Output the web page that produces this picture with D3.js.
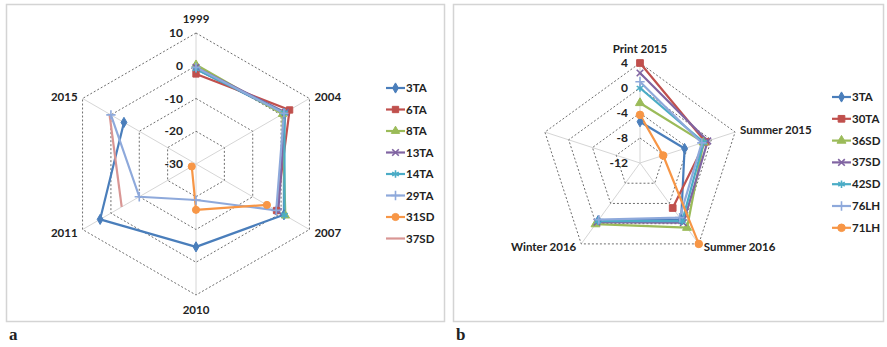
<!DOCTYPE html>
<html>
<head>
<meta charset="utf-8">
<script src="https://cdn.jsdelivr.net/npm/d3@7"></script>
<style>
  html, body { margin: 0; padding: 0; background: #fff; }
  svg { display: block; font-family: Lato, "Open Sans", sans-serif; }
</style>
</head>
<body>
<svg id="chart" width="887" height="347"></svg>
<script>
// ---- Panel a: yearly series ----
const axesA = ["1999", "2004", "2007", "2010", "2011", "2015"];
const ticksA = [-30, -20, -10, 0, 10];
const seriesA = ["3TA", "6TA", "8TA", "13TA", "14TA", "29TA", "31SD", "37SD"];
const a_3TA  = [-1.0, 1.0, 1.0, -4.7, 3.8, -4.6];
const a_6TA  = [-2.5, 3.0, -1.6, null, null, null];
const a_8TA  = [0.3, 0.5, 1.5, null, null, null];
const a_13TA = [-0.5, 1.5, -1.0, null, null, null];
const a_14TA = [-1.0, 1.2, 1.2, null, null, null];
const a_29TA = [-0.5, 1.0, -1.7, -19.0, -10.0, 0.0];
const a_31SD = [null, null, -5.0, -16.0, -28.5, null];
const a_37SD = [null, null, null, null, -3.8, 0.5];

// ---- Panel b: seasonal series (fifth spoke has no category) ----
const axesB = ["Print 2015", "Summer 2015", "Summer 2016", "Winter 2016", ""];
const ticksB = [-12, -8, -4, 0, 4];
const seriesB = ["3TA", "30TA", "36SD", "37SD", "42SD", "76LH", "71LH"];
const b_3TA  = [-5.4, -4.5, -0.8, -0.6, null];
const b_30TA = [4.0, -1.0, -3.1, null, null];
const b_36SD = [-2.4, -1.3, 0.8, 0.1, null];
const b_37SD = [2.4, -0.6, -0.2, -0.3, null];
const b_42SD = [0.0, -1.3, -0.5, -0.5, null];
const b_76LH = [1.0, -1.6, -1.2, -0.8, null];
const b_71LH = [-4.3, -8.1, 4.0, null, null];

const C = {
  blue: "#4A7EBB", red: "#C0504D", green: "#9BBB59", purple: "#8064A2",
  cyan: "#4BACC6", light: "#8EA9DB", orange: "#F79646", pink: "#D99694"
};
const symX = d3.symbolTimes || d3.symbolCross;
const symStar = d3.symbolAsterisk || d3.symbolCross;
const symPlus = d3.symbolPlus || d3.symbolCross;

const styleA = [
  { color: C.blue, sym: d3.symbolDiamond, size: 30 },
  { color: C.red, sym: d3.symbolSquare, size: 40 },
  { color: C.green, sym: d3.symbolTriangle, size: 30 },
  { color: C.purple, sym: symX, size: 30, stroke: true },
  { color: C.cyan, sym: symStar, size: 40, stroke: true },
  { color: C.light, sym: symPlus, size: 30, stroke: true },
  { color: C.orange, sym: d3.symbolCircle, size: 40 },
  { color: C.pink, sym: null }
];
const styleB = [
  { color: C.blue, sym: d3.symbolDiamond, size: 30 },
  { color: C.red, sym: d3.symbolSquare, size: 45 },
  { color: C.green, sym: d3.symbolTriangle, size: 35 },
  { color: C.purple, sym: symX, size: 30, stroke: true },
  { color: C.cyan, sym: symStar, size: 40, stroke: true },
  { color: C.light, sym: symPlus, size: 30, stroke: true },
  { color: C.orange, sym: d3.symbolCircle, size: 45 }
];

const svg = d3.select("#chart");

// panel frames
svg.append("rect").attr("x", 6.5).attr("y", 4.5).attr("width", 438).attr("height", 317)
  .attr("fill", "#fff").attr("stroke", "#d4d4d4").attr("stroke-width", 1.5);
svg.append("rect").attr("x", 453.5).attr("y", 4.5).attr("width", 430).attr("height", 317)
  .attr("fill", "#fff").attr("stroke", "#d4d4d4").attr("stroke-width", 1.5);

// panel letters
svg.append("text").attr("x", 9).attr("y", 340).text("a")
  .attr("font-family", "'Liberation Serif', 'DejaVu Serif', serif").attr("font-weight", "bold")
  .attr("font-size", 17).attr("fill", "#222");
svg.append("text").attr("x", 456).attr("y", 340).text("b")
  .attr("font-family", "'Liberation Serif', 'DejaVu Serif', serif").attr("font-weight", "bold")
  .attr("font-size", 17).attr("fill", "#222");

function drawMarker(g, st, x, y) {
  if (!st.sym) return;
  const p = d3.symbol().type(st.sym).size(st.size)();
  g.append("path").attr("d", p).attr("transform", `translate(${x},${y})`)
    .attr("fill", st.stroke ? "none" : st.color)
    .attr("stroke", st.color).attr("stroke-width", st.stroke ? 1.6 : 1);
}

function radar(opt) {
  const { cx, cy, R, axes, ticks, names, data, styles, tickOffset, legend } = opt;
  const n = axes.length;
  const top = ticks[ticks.length - 1];
  const g = svg.append("g").attr("transform", `translate(${cx},${cy})`);
  const r = d3.scaleLinear().domain([ticks[0], top]).range([0, R]);
  const ang = d3.scaleLinear().domain([0, n]).range([0, 2 * Math.PI]);
  const px = (i, v) => r(v) * Math.sin(ang(i));
  const py = (i, v) => -r(v) * Math.cos(ang(i));

  // spokes
  axes.forEach((a, i) => {
    g.append("line").attr("x1", 0).attr("y1", 0)
      .attr("x2", px(i, top)).attr("y2", py(i, top))
      .attr("stroke", "#d6d6d6").attr("stroke-width", 1);
  });
  // dashed rings
  const ring = d3.lineRadial().angle((d, i) => ang(i)).radius(d => r(d)).curve(d3.curveLinearClosed);
  ticks.slice(1).forEach(t => {
    g.append("path").attr("d", ring(axes.map(() => t)))
      .attr("fill", "none").attr("stroke", "#6e6e6e").attr("stroke-width", 1)
      .attr("stroke-dasharray", "2,2");
  });
  // tick labels
  ticks.forEach(t => {
    g.append("text").attr("x", tickOffset).attr("y", -r(t)).attr("dy", "0.35em")
      .attr("text-anchor", "end").attr("font-size", 12).attr("font-weight", "bold")
      .attr("fill", "#222").text(t);
  });
  // category labels
  axes.forEach((a, i) => {
    if (!a) return;
    const s = Math.sin(ang(i)), c = Math.cos(ang(i));
    const vx = px(i, top), vy = py(i, top);
    let x = vx, y = vy, anchor = "middle";
    if (Math.abs(s) < 0.01) { y = c > 0 ? vy - 14 : vy + 15; }
    else { anchor = s > 0 ? "start" : "end"; x = vx + (s > 0 ? 5 : -5); y = vy + (c > 0 ? -2 : 3); }
    g.append("text").attr("x", x).attr("y", y).attr("dy", "0.35em")
      .attr("text-anchor", anchor).attr("font-size", 11.5).attr("font-weight", "bold")
      .attr("fill", "#222").text(a);
  });
  // series lines (open, broken at missing values)
  const line = d3.lineRadial().defined(d => d != null)
    .angle((d, i) => ang(i)).radius(d => r(d));
  data.forEach((vals, k) => {
    const st = styles[k];
    g.append("path").attr("d", line(vals)).attr("fill", "none")
      .attr("stroke", st.color).attr("stroke-width", 2.2).attr("stroke-linejoin", "round");
  });
  data.forEach((vals, k) => {
    const st = styles[k];
    vals.forEach((v, i) => { if (v != null) drawMarker(g, st, px(i, v), py(i, v)); });
  });
  // legend
  const lg = svg.append("g");
  names.forEach((nm, k) => {
    const st = styles[k];
    const y = legend.y + k * legend.dy;
    lg.append("line").attr("x1", legend.x).attr("x2", legend.x + 19).attr("y1", y).attr("y2", y)
      .attr("stroke", st.color).attr("stroke-width", 2.2);
    drawMarker(lg, st, legend.x + 9.5, y);
    lg.append("text").attr("x", legend.x + 20).attr("y", y).attr("dy", "0.35em")
      .attr("font-size", 11.5).attr("font-weight", "bold").attr("fill", "#222").text(nm);
  });
}

radar({
  cx: 196, cy: 164, R: 131, axes: axesA, ticks: ticksA, names: seriesA,
  data: [a_3TA, a_6TA, a_8TA, a_13TA, a_14TA, a_29TA, a_31SD, a_37SD],
  styles: styleA, tickOffset: -13, legend: { x: 386, y: 88, dy: 21.5 }
});
radar({
  cx: 640, cy: 163, R: 100, axes: axesB, ticks: ticksB, names: seriesB,
  data: [b_3TA, b_30TA, b_36SD, b_37SD, b_42SD, b_76LH, b_71LH],
  styles: styleB, tickOffset: -12, legend: { x: 832, y: 97, dy: 21.8 }
});
</script>
</body>
</html>
